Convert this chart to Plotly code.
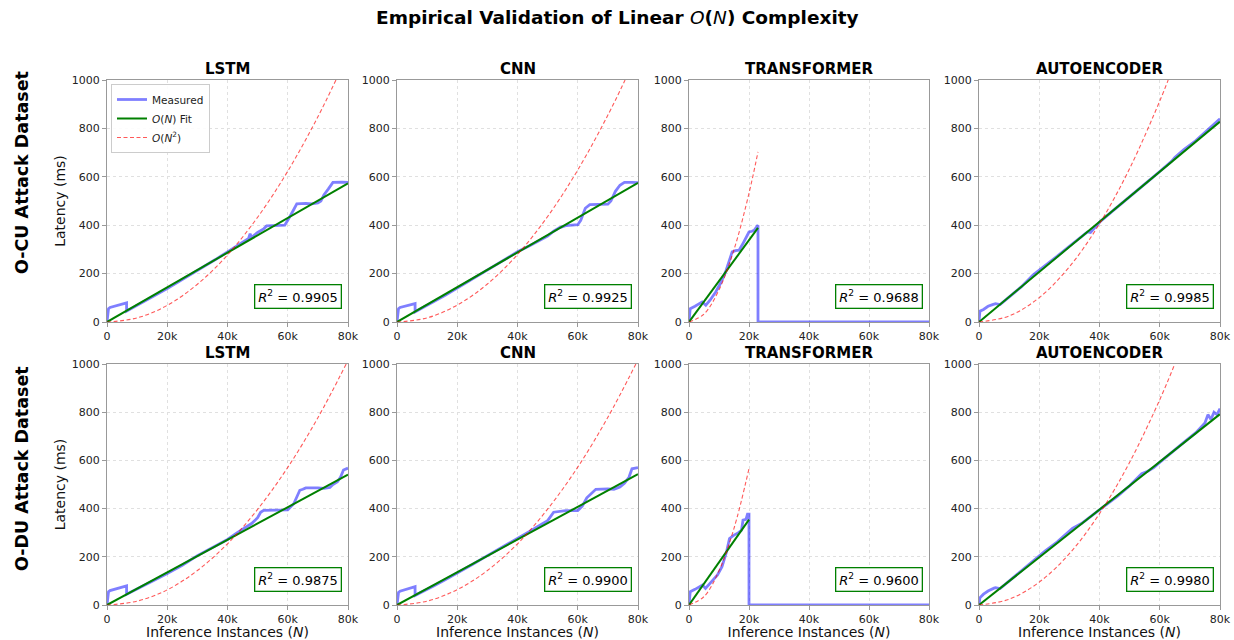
import plotly.graph_objects as go

# ---------------- data ----------------
models = ["LSTM", "CNN", "TRANSFORMER", "AUTOENCODER"]
datasets = ["O-CU Attack Dataset", "O-DU Attack Dataset"]
x_tickvals = [0, 20000, 40000, 60000, 80000]
x_ticktext = ["0", "20k", "40k", "60k", "80k"]
y_tickvals = [0, 200, 400, 600, 800, 1000]

# measured latency (O-CU)
lstm_cu_x = [0, 500, 1000, 3000, 5000, 6500, 6500, 8000, 10000, 13000, 16000, 20000, 24000, 28000, 32000, 36000, 40000, 43000, 45000, 47000, 47500, 48000, 50000, 52000, 53000, 56000, 58000, 59000, 60000, 61000, 62000, 63000, 66000, 68000, 70000, 71000, 72000, 73500, 75000, 78000, 80000]
lstm_cu_y = [0, 55, 60, 68, 74, 79, 45, 55, 68, 89, 110, 138, 168, 197, 226, 258, 290, 315, 330, 345, 365, 350, 370, 385, 397, 398, 397, 400, 420, 440, 465, 488, 490, 488, 492, 500, 525, 550, 577, 578, 577]
cnn_cu_x = [0, 500, 1000, 3000, 5000, 6000, 6000, 8000, 12000, 16000, 20000, 25000, 30000, 35000, 40000, 44000, 48000, 50000, 52000, 54000, 56000, 58000, 60000, 61000, 62500, 64000, 67000, 70000, 71000, 72500, 74000, 75500, 78000, 80000]
cnn_cu_y = [0, 55, 60, 66, 72, 76, 42, 55, 82, 110, 140, 178, 215, 252, 290, 315, 340, 355, 375, 390, 398, 400, 402, 420, 470, 485, 486, 487, 500, 540, 565, 577, 577, 576]
trans_cu_x = [0, 400, 2000, 4400, 5600, 7000, 8900, 10500, 12200, 13300, 14400, 15500, 16700, 17800, 18900, 20000, 21000, 21700, 22500, 23000, 23000, 80000]
trans_cu_y = [0, 55, 65, 83, 69, 90, 124, 160, 207, 250, 290, 295, 297, 320, 345, 372, 375, 379, 392, 400, 0, 0]
ae_cu_x = [0, 300, 1500, 3000, 4500, 5500, 7000, 10000, 14000, 18000, 22000, 26000, 30000, 34000, 36000, 37000, 40000, 44000, 48000, 52000, 56000, 60000, 64000, 65000, 68000, 72000, 76000, 80000]
ae_cu_y = [0, 45, 52, 65, 72, 76, 72, 105, 145, 195, 233, 272, 313, 355, 372, 370, 412, 455, 498, 538, 580, 622, 665, 680, 712, 750, 795, 840]

# measured latency (O-DU)
lstm_du_x = [0, 500, 1000, 3000, 5000, 6500, 6500, 8000, 12000, 16000, 20000, 25000, 30000, 35000, 40000, 43000, 46000, 48000, 50000, 51000, 52000, 55000, 58000, 60000, 62000, 63000, 64000, 65000, 66000, 70000, 72000, 74000, 75000, 76500, 77500, 78500, 80000]
lstm_du_y = [0, 55, 60, 68, 74, 79, 45, 55, 80, 105, 131, 165, 205, 240, 272, 298, 320, 338, 362, 385, 393, 394, 392, 395, 420, 450, 476, 480, 486, 486, 484, 488, 500, 512, 530, 560, 568]
cnn_du_x = [0, 500, 1000, 3000, 5000, 6000, 6000, 8000, 12000, 16000, 20000, 25000, 30000, 35000, 40000, 44000, 48000, 50000, 52000, 56000, 60000, 61500, 63000, 65000, 66000, 70000, 72000, 74000, 75500, 77000, 78000, 80000]
cnn_du_y = [0, 52, 57, 64, 70, 76, 40, 52, 78, 105, 132, 168, 205, 240, 275, 305, 335, 350, 385, 392, 392, 410, 445, 470, 480, 482, 480, 490, 505, 530, 565, 570]
trans_du_x = [0, 400, 2000, 4500, 5500, 7000, 8000, 9500, 11000, 12500, 13500, 15000, 16500, 17500, 18000, 19000, 19500, 20000, 20000, 80000]
trans_du_y = [0, 55, 65, 83, 69, 90, 103, 125, 159, 220, 276, 290, 300, 310, 352, 355, 377, 377, 0, 0]
ae_du_x = [0, 300, 1500, 3000, 5000, 5500, 7000, 10000, 14000, 18000, 22000, 26000, 30000, 31000, 34000, 38000, 42000, 46000, 50000, 54000, 56000, 58000, 60000, 64000, 68000, 72000, 75000, 76000, 77000, 78000, 79000, 80000]
ae_du_y = [0, 30, 45, 58, 70, 72, 68, 100, 140, 185, 225, 262, 305, 318, 338, 375, 413, 452, 495, 545, 555, 570, 592, 635, 675, 715, 755, 790, 770, 800, 790, 815]

# O(N) fit end points
fit_x = [[0, 80000], [0, 80000], [0, 23000], [0, 80000],
         [0, 80000], [0, 80000], [0, 20000], [0, 80000]]
fit_y = [[0, 573], [0, 575], [0, 389], [0, 828],
         [0, 541], [0, 543], [0, 354], [0, 792]]

# O(N^2) reference curves (read at sample points)
quad_lstm_cu_x = [0, 10000, 20000, 30000, 40000, 50000, 60000, 70000, 76000]
quad_lstm_cu_y = [0, 17, 69, 156, 277, 433, 623, 848, 1000]
quad_cnn_cu_x = [0, 10000, 20000, 30000, 40000, 50000, 60000, 70000, 75700]
quad_cnn_cu_y = [0, 17, 70, 157, 279, 436, 628, 855, 1000]
quad_trans_cu_x = [0, 5000, 10000, 15000, 20000, 23000]
quad_trans_cu_y = [0, 33, 133, 299, 532, 703]
quad_ae_cu_x = [0, 10000, 20000, 30000, 40000, 50000, 60000, 62800]
quad_ae_cu_y = [0, 25, 101, 228, 406, 634, 913, 1000]
quad_lstm_du_x = [0, 10000, 20000, 30000, 40000, 50000, 60000, 70000, 79400]
quad_lstm_du_y = [0, 16, 63, 143, 254, 397, 571, 777, 1000]
quad_cnn_du_x = [0, 10000, 20000, 30000, 40000, 50000, 60000, 70000, 79300]
quad_cnn_du_y = [0, 16, 64, 143, 254, 398, 572, 779, 1000]
quad_trans_du_x = [0, 5000, 10000, 15000, 20000]
quad_trans_du_y = [0, 35, 142, 318, 566]
quad_ae_du_x = [0, 10000, 20000, 30000, 40000, 50000, 60000, 65000]
quad_ae_du_y = [0, 24, 95, 213, 379, 592, 852, 1000]

r2_values = ["0.9905", "0.9925", "0.9688", "0.9985",
             "0.9875", "0.9900", "0.9600", "0.9980"]

measured_x = [lstm_cu_x, cnn_cu_x, trans_cu_x, ae_cu_x, lstm_du_x, cnn_du_x, trans_du_x, ae_du_x]
measured_y = [lstm_cu_y, cnn_cu_y, trans_cu_y, ae_cu_y, lstm_du_y, cnn_du_y, trans_du_y, ae_du_y]
quad_x = [quad_lstm_cu_x, quad_cnn_cu_x, quad_trans_cu_x, quad_ae_cu_x,
          quad_lstm_du_x, quad_cnn_du_x, quad_trans_du_x, quad_ae_du_x]
quad_y = [quad_lstm_cu_y, quad_cnn_cu_y, quad_trans_cu_y, quad_ae_cu_y,
          quad_lstm_du_y, quad_cnn_du_y, quad_trans_du_y, quad_ae_du_y]

# ---------------- layout geometry ----------------
W, H = 1234, 640
col_px = [(107, 348), (397, 638), (689, 929), (979, 1220)]
row_px = [(80, 322), (364, 605)]
row_label_center = [173, 469]
FONT = "DejaVu Sans"
SPINE = "#999999"

fig = go.Figure()
annotations = []

for i in range(8):
    r, c = divmod(i, 4)
    ax = i + 1
    xa = "x" if ax == 1 else f"x{ax}"
    ya = "y" if ax == 1 else f"y{ax}"
    show = (i == 0)
    fig.add_trace(go.Scatter(x=measured_x[i], y=measured_y[i], mode="lines",
                             line=dict(color="rgba(0,0,255,0.5)", width=2.8),
                             name="Measured", showlegend=show, xaxis=xa, yaxis=ya))
    fig.add_trace(go.Scatter(x=fit_x[i], y=fit_y[i], mode="lines",
                             line=dict(color="green", width=2),
                             name="<i>O</i>(<i>N</i>) Fit", showlegend=show, xaxis=xa, yaxis=ya))
    fig.add_trace(go.Scatter(x=quad_x[i], y=quad_y[i], mode="lines",
                             line=dict(color="rgba(255,0,0,0.65)", width=1.1, dash="4px,2.5px", shape="spline"),
                             name="<i>O</i>(<i>N</i><sup>2</sup>)", showlegend=show, xaxis=xa, yaxis=ya))

    x0, x1 = col_px[c]
    y0, y1 = row_px[r]
    common = dict(showline=True, linecolor=SPINE, linewidth=1.3, mirror=True,
                  ticks="outside", ticklen=4, tickcolor=SPINE, automargin=False,
                  showgrid=True, gridcolor="#e0e0e0", griddash="dot", gridwidth=1,
                  zeroline=False, tickfont=dict(family=FONT, size=11, color="#222"))
    xaxis = dict(domain=[x0 / W, x1 / W], range=[0, 80000], anchor=ya,
                 tickvals=x_tickvals, ticktext=x_ticktext, **common)
    if r == 1:
        xaxis["title"] = dict(text="Inference Instances (<i>N</i>)",
                              font=dict(family=FONT, size=14, color="#111"), standoff=3)
    yaxis = dict(domain=[1 - y1 / H, 1 - y0 / H], range=[0, 1000], anchor=xa,
                 tickvals=y_tickvals, **common)
    if c == 0:
        yaxis["title"] = dict(text="Latency (ms)", font=dict(family=FONT, size=14, color="#111"),
                              standoff=2)
    fig.layout[f"xaxis{'' if ax == 1 else ax}"] = xaxis
    fig.layout[f"yaxis{'' if ax == 1 else ax}"] = yaxis

    # subplot title
    annotations.append(dict(text=f"<b>{models[c]}</b>", x=(x0 + x1) / 2 / W, y=1 - (y0 - 11) / H,
                            xref="paper", yref="paper", showarrow=False, xanchor="center",
                            yanchor="middle", font=dict(family=FONT, size=15, color="#000")))
    # R^2 box
    annotations.append(dict(text=f"<i>R</i><sup>2</sup> = {r2_values[i]}", x=63400, y=105,
                            xref=xa, yref=ya, showarrow=False, xanchor="center", yanchor="middle",
                            bgcolor="white", bordercolor="green", borderwidth=1.3, borderpad=3,
                            font=dict(family=FONT, size=13, color="#000")))

# row labels
for r in range(2):
    annotations.append(dict(text=f"<b>{datasets[r]}</b>", x=22 / W, y=1 - row_label_center[r] / H,
                            xref="paper", yref="paper", showarrow=False, textangle=-90,
                            xanchor="center", yanchor="middle",
                            font=dict(family=FONT, size=17.5, color="#000")))

# main title
annotations.append(dict(text="<b>Empirical Validation of Linear </b><i>O</i><b>(</b><i>N</i><b>) Complexity</b>",
                        x=0.5, y=1 - 18 / H, xref="paper", yref="paper", showarrow=False,
                        xanchor="center", yanchor="middle",
                        font=dict(family=FONT, size=18.5, color="#000")))

fig.update_layout(
    width=W, height=H, margin=dict(l=0, r=0, t=0, b=0, autoexpand=False),
    paper_bgcolor="white", plot_bgcolor="white",
    font=dict(family=FONT, size=11, color="#222"),
    annotations=annotations,
    legend=dict(x=111 / W, y=1 - 84 / H, xanchor="left", yanchor="top",
                bgcolor="rgba(255,255,255,0.9)", bordercolor="#cccccc", borderwidth=1,
                font=dict(family=FONT, size=10.5, color="#222"), tracegroupgap=0,
                itemwidth=30),
)

fig.write_html("out.html")
